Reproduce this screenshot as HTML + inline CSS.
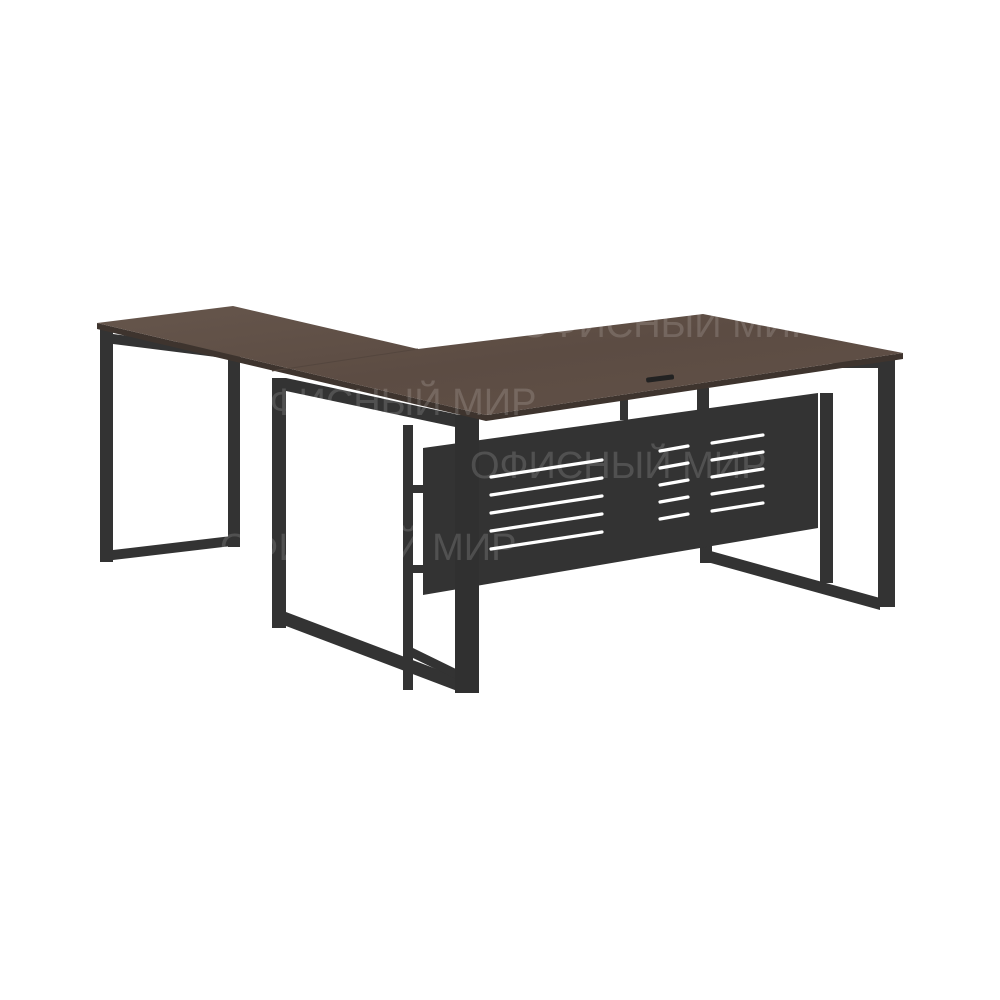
<!DOCTYPE html>
<html><head><meta charset="utf-8"><style>html,body{margin:0;padding:0;background:#fff}svg{display:block}</style></head>
<body>
<svg width="1000" height="1000" viewBox="0 0 1000 1000" xmlns="http://www.w3.org/2000/svg">
<defs>
<linearGradient id="wood" x1="0" y1="0" x2="1" y2="1">
<stop offset="0" stop-color="#66564c"/><stop offset="0.5" stop-color="#5c4c43"/><stop offset="1" stop-color="#615148"/>
</linearGradient>
</defs>
<g fill="#333333">
<rect x="100" y="328" width="13" height="234"/>
<rect x="228" y="355" width="12" height="192"/>
<polygon points="113,550 240,535 240,545 113,560"/>
<polygon points="113,334 240,350 240,360 113,344"/>
<rect x="820" y="393" width="13" height="190"/>
<rect x="878" y="360" width="17" height="247"/>
<polygon points="700,548 880,598 880,610 700,560"/>
<rect x="700" y="545" width="12" height="18"/>
<rect x="620" y="395" width="8" height="25"/>
<rect x="697" y="388" width="12" height="30"/>
<polygon points="833,360 880,360 880,368 833,368"/>
<rect x="272" y="378" width="14" height="250"/>
<polygon points="286,612 460,678 460,692 286,626"/>
<polygon points="286,378 460,415 460,428 286,391"/>
<rect x="403" y="425" width="10" height="265"/>
<polygon points="413,648 458,670 458,680 413,658"/>
<rect x="413" y="485" width="10" height="8"/>
<rect x="413" y="565" width="10" height="8"/>
</g>
<polygon points="423,448 818,393 818,528 423,595" fill="#333333"/>
<g stroke="#fff" stroke-width="3.2" stroke-linecap="round">
<line x1="491" y1="477" x2="602" y2="460"/>
<line x1="491" y1="495" x2="602" y2="478"/>
<line x1="491" y1="513" x2="602" y2="496"/>
<line x1="491" y1="531" x2="602" y2="514"/>
<line x1="491" y1="549" x2="602" y2="532"/>
<line x1="660" y1="451" x2="688" y2="446"/>
<line x1="660" y1="468" x2="688" y2="463"/>
<line x1="660" y1="485" x2="688" y2="480"/>
<line x1="660" y1="502" x2="688" y2="497"/>
<line x1="660" y1="519" x2="688" y2="514"/>
<line x1="712" y1="443" x2="763" y2="435"/>
<line x1="712" y1="460" x2="763" y2="452"/>
<line x1="712" y1="477" x2="763" y2="469"/>
<line x1="712" y1="494" x2="763" y2="486"/>
<line x1="712" y1="511" x2="763" y2="503"/>
</g>
<rect x="455" y="415" width="24" height="278" fill="#303030"/>
<polygon points="97,323 97,329 486,421 903,359 903,353 486,415" fill="#3e342e"/>
<polygon points="97,323 233,306 418,349 703,314 903,353 486,415" fill="url(#wood)"/>
<line x1="418" y1="349" x2="272" y2="371" stroke="#54463e" stroke-width="1"/>
<rect x="646" y="376" width="28" height="5" rx="2" fill="#222" transform="rotate(-7 660 378)"/>
<g font-family="Liberation Sans, DejaVu Sans, sans-serif" font-size="38" fill="#ffffff" fill-opacity="0.15">
<text x="240" y="415">ОФИСНЫЙ МИР</text>
<text x="470" y="478">ОФИСНЫЙ МИР</text>
<text x="220" y="560">ОФИСНЫЙ МИР</text>
<text x="520" y="337">ОФИСНЫЙ МИР</text>
</g>
</svg>
</body></html>
